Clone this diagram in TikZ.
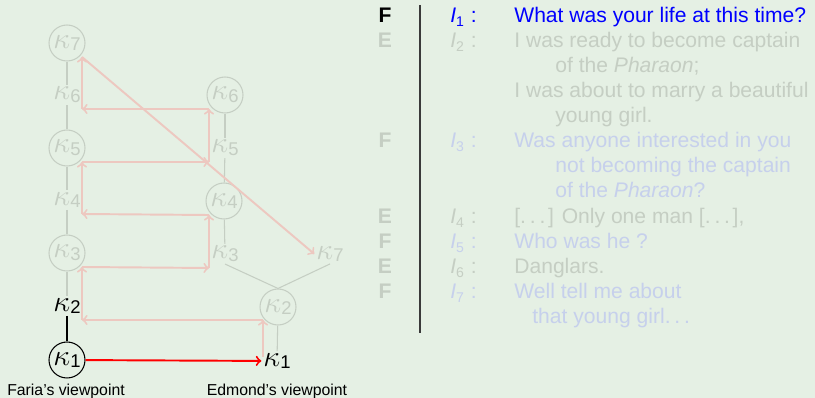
\documentclass[tikz,border=0pt]{standalone}
\usepackage{fix-cm}
\usepackage{fontspec}
\setmainfont{Liberation Sans}
\usetikzlibrary{calc}

\definecolor{slide}{HTML}{E5F0E4}
\definecolor{fadegray}{HTML}{C5CEC3}
\definecolor{fadeblue}{HTML}{C6D0EC}
\definecolor{fadered}{HTML}{EDC8C0}
\definecolor{barcol}{HTML}{3A3A3A}

\newcommand{\kp}[1]{$\kappa$\raisebox{-1.6pt}{\fontsize{10.5}{12}\selectfont #1}}
\newcommand{\dts}{.\kern2.2pt.\kern2.2pt.\kern1.5pt}

\begin{document}
\begin{tikzpicture}[
    x=0.02cm, y=-0.02cm,
    kstate/.style={circle, draw=fadegray, text=fadegray, minimum size=7.2mm, inner sep=0pt, line width=0.6pt, font=\fontsize{17}{20}\selectfont},
    kplain/.style={text=fadegray, inner sep=1pt, font=\fontsize{17}{20}\selectfont},
    link/.style={fadegray, line width=0.6pt},
    trace/.style={->, fadered, line width=1.1pt},
    ask/.style={->, red, line width=1.1pt},
    who/.style={anchor=base, inner sep=0pt, font=\fontsize{12}{14}\selectfont\bfseries},
    tag/.style={anchor=base west, inner sep=0pt, font=\fontsize{12}{14}\selectfont},
    say/.style={anchor=base west, inner sep=0pt, font=\fontsize{12}{14}\selectfont},
    view/.style={anchor=base, inner sep=0pt, font=\fontsize{9}{11}\selectfont}
]

\fill[slide] (0,0) rectangle (815,398);
\useasboundingbox (0,0) rectangle (815,398);

% Faria's side
\node[kstate] (fk7) at (67,43) {\kp{7}};
\node[kplain] (fk6) at (67,95) {\kp{6}};
\node[kstate] (fk5) at (67,148) {\kp{5}};
\node[kplain] (fk4) at (67,200) {\kp{4}};
\node[kstate] (fk3) at (67,253) {\kp{3}};
\node[kplain, text=black] (fk2) at (67,306) {\kp{2}};
\node[kstate, draw=black, text=black] (fk1) at (67,360) {\kp{1}};

% Edmond's side
\node[kstate] (ek6) at (225,95) {\kp{6}};
\node[kplain] (ek5) at (225,148) {\kp{5}};
\node[kstate] (ek4) at (224,201) {\kp{4}};
\node[kplain] (ek3) at (225,254) {\kp{3}};
\node[kplain] (ek7) at (330,254) {\kp{7}};
\node[kstate] (ek2) at (278,307) {\kp{2}};
\node[kplain, text=black] (ek1) at (277,361) {\kp{1}};

\node[view] (fview) at (66,396) {Faria's viewpoint};
\node[view] (eview) at (277,396) {Edmond's viewpoint};

\draw[link] (fk7) -- (fk6);
\draw[link] (fk6) -- (fk5);
\draw[link] (fk5) -- (fk4);
\draw[link] (fk4) -- (fk3);
\draw[link] (fk3) -- (fk2);
\draw[black, line width=0.6pt] (fk2) -- (fk1);
\draw[link] (ek6) -- (ek5);
\draw[link] (ek5) -- (ek4);
\draw[link] (ek4) -- (ek3);
\draw[link] (ek3.south) -- (ek2.north);
\draw[link] (ek7.south) -- (ek2.north);
\draw[link] (ek2) -- (ek1);

% turning points of the exchange
\coordinate (p1) at ($(ek1)+(-14,-4)$);
\coordinate (q2) at ($(ek2)+(-15,13)$);
\coordinate (r2) at ($(fk2)+(15,14)$);
\coordinate (r3) at ($(fk3)+(15,14)$);
\coordinate (q3) at ($(ek3)+(-16,14)$);
\coordinate (q4) at ($(ek4)+(-15,14)$);
\coordinate (r4) at ($(fk4)+(15,14)$);
\coordinate (r5) at ($(fk5)+(15,14)$);
\coordinate (q5) at ($(ek5)+(-16,14)$);
\coordinate (q6) at ($(ek6)+(-16,14)$);
\coordinate (r6) at ($(fk6)+(15,14)$);
\coordinate (r7) at ($(fk7)+(15,14)$);

\draw[trace] (p1) -- (q2);
\draw[trace] (q2) -- (r2);
\draw[trace] (r2) -- (r3);
\draw[trace] (r3) -- (q3);
\draw[trace] (q3) -- (q4);
\draw[trace] (q4) -- (r4);
\draw[trace] (r4) -- (r5);
\draw[trace] (r5) -- (q5);
\draw[trace] (q5) -- (q6);
\draw[trace] (q6) -- (r6);
\draw[trace] (r6) -- (r7);
\draw[trace] (r7) -- (ek7.west);
\draw[ask] (fk1) -- (ek1);

% dialogue
\draw[barcol, line width=0.6pt] (420,5) -- (420,333);

\node[who] (w1) at (385,23) {F};
\node[tag, text=blue] (t1) at (450,23) {\textit{I}\textsubscript{1} :};
\node[say, text=blue] (s1) at (514,23) {What was your life at this time?};

\node[who, text=fadegray] (w2) at (385,48) {E};
\node[tag, text=fadegray] (t2) at (450,48) {\textit{I}\textsubscript{2} :};
\node[say, text=fadegray] (s2a) at (514,48) {I was ready to become captain};
\node[say, text=fadegray] (s2b) at (555,73) {of the \textit{Pharaon};};
\node[say, text=fadegray] (s2c) at (514,98) {I was about to marry a beautiful};
\node[say, text=fadegray] (s2d) at (555,123) {young girl.};

\node[who, text=fadegray] (w3) at (385,148) {F};
\node[tag, text=fadeblue] (t3) at (450,148) {\textit{I}\textsubscript{3} :};
\node[say, text=fadeblue] (s3a) at (514,148) {Was anyone interested in you};
\node[say, text=fadeblue] (s3b) at (555,173) {not becoming the captain};
\node[say, text=fadeblue] (s3c) at (555,198) {of the \textit{Pharaon}?};

\node[who, text=fadegray] (w4) at (385,224) {E};
\node[tag, text=fadegray] (t4) at (450,224) {\textit{I}\textsubscript{4} :};
\node[say, text=fadegray] (s4) at (514,224) {[\dts] Only one man [\dts],};

\node[who, text=fadegray] (w5) at (385,249) {F};
\node[tag, text=fadeblue] (t5) at (450,249) {\textit{I}\textsubscript{5} :};
\node[say, text=fadeblue] (s5) at (514,249) {Who was he ?};

\node[who, text=fadegray] (w6) at (385,274) {E};
\node[tag, text=fadegray] (t6) at (450,274) {\textit{I}\textsubscript{6} :};
\node[say, text=fadegray] (s6) at (514,274) {Danglars.};

\node[who, text=fadegray] (w7) at (385,299) {F};
\node[tag, text=fadeblue] (t7) at (450,299) {\textit{I}\textsubscript{7} :};
\node[say, text=fadeblue] (s7a) at (514,299) {Well tell me about};
\node[say, text=fadeblue] (s7b) at (532,324) {that young girl\dts};

\end{tikzpicture}
\end{document}
